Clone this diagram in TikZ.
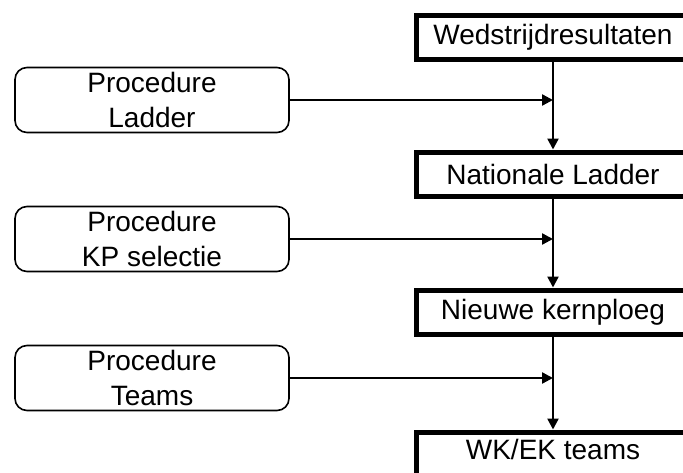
\documentclass[tikz,border=0pt]{standalone}
\usepackage{fontspec}
\setmainfont{Liberation Sans}
\usetikzlibrary{arrows.meta}

\begin{document}
\begin{tikzpicture}[
	x=1pt, y=-1pt,
	stage/.style={draw, line width=5pt, align=center, minimum width=273pt, minimum height=44pt, inner sep=0pt, font=\fontsize{28}{34}\selectfont},
	proc/.style={draw, line width=1.6pt, rounded corners=12pt, align=center, minimum width=274pt, minimum height=65pt, inner sep=0pt, font=\fontsize{28}{35}\selectfont},
	edge/.style={-{Triangle[length=11pt,width=11pt]}, line width=2.4pt}
]
% page frame, boxes on the right run off it
\path[use as bounding box, clip] (0,0) rectangle (683,472);

% Right side nodes
\node[stage] (results) at (553, 37.5) {Wedstrijdresultaten};
\node[stage] (ladder) at (553, 174) {Nationale Ladder};
\node[stage] (core) at (553, 312) {Nieuwe kernploeg};
\node[stage, anchor=north, text height=27pt, text depth=40pt] (teams) at (553, 429.5) {WK/EK teams};

% Left side nodes
\node[proc] (procladder) at (152, 100) {Procedure\\Ladder};
\node[proc] (prockp) at (152, 239) {Procedure\\KP selectie};
\node[proc] (procteams) at (152, 378) {Procedure\\Teams};

% Edges
\draw[edge] (results) -- (ladder);
\draw[edge] (ladder) -- (core);
\draw[edge] (core) -- (teams);
\draw[edge] (procladder) -- (procladder -| results);
\draw[edge] (prockp) -- (prockp -| ladder);
\draw[edge] (procteams) -- (procteams -| core);

\end{tikzpicture}
\end{document}
